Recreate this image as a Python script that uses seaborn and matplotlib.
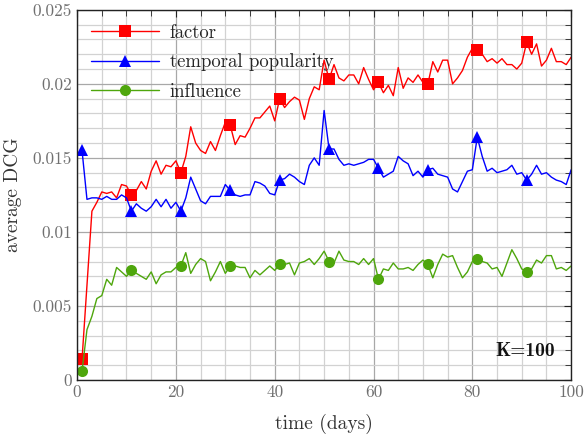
import numpy as np
import pandas as pd
import seaborn as sns
from matplotlib import pyplot as plt
from matplotlib.ticker import MultipleLocator, FuncFormatter

days = np.arange(1, 101)

factor = [
    0.0014, 0.0064, 0.0114, 0.0120, 0.0127, 0.0126, 0.0127, 0.0123, 0.0132, 0.0131,
    0.0125, 0.0128, 0.0134, 0.0129, 0.0141, 0.0148, 0.0139, 0.0145, 0.0144, 0.0148,
    0.0140, 0.0151, 0.0171, 0.0160, 0.0155, 0.0153, 0.0161, 0.0155, 0.0165, 0.0174,
    0.0172, 0.0159, 0.0165, 0.0164, 0.0170, 0.0177, 0.0177, 0.0181, 0.0185, 0.0175,
    0.0190, 0.0184, 0.0188, 0.0191, 0.0189, 0.0176, 0.0190, 0.0198, 0.0196, 0.0216,
    0.0203, 0.0213, 0.0204, 0.0202, 0.0206, 0.0206, 0.0200, 0.0211, 0.0203, 0.0196,
    0.0201, 0.0194, 0.0199, 0.0192, 0.0211, 0.0197, 0.0204, 0.0201, 0.0206, 0.0201,
    0.0200, 0.0215, 0.0208, 0.0216, 0.0216, 0.0200, 0.0204, 0.0209, 0.0218, 0.0224,
    0.0223, 0.0220, 0.0215, 0.0217, 0.0214, 0.0217, 0.0213, 0.0213, 0.0210, 0.0214,
    0.0228, 0.0220, 0.0227, 0.0212, 0.0216, 0.0224, 0.0215, 0.0215, 0.0213, 0.0218,
]

popularity = [
    0.0155, 0.0122, 0.0123, 0.0123, 0.0122, 0.0124, 0.0122, 0.0122, 0.0125, 0.0123,
    0.0114, 0.0119, 0.0116, 0.0114, 0.0117, 0.0122, 0.0117, 0.0122, 0.0116, 0.0120,
    0.0114, 0.0123, 0.0137, 0.0129, 0.0121, 0.0119, 0.0124, 0.0124, 0.0124, 0.0132,
    0.0128, 0.0125, 0.0124, 0.0125, 0.0125, 0.0134, 0.0133, 0.0131, 0.0126, 0.0125,
    0.0135, 0.0136, 0.0139, 0.0137, 0.0134, 0.0132, 0.0145, 0.0150, 0.0145, 0.0182,
    0.0156, 0.0156, 0.0149, 0.0145, 0.0146, 0.0145, 0.0146, 0.0147, 0.0149, 0.0149,
    0.0143, 0.0137, 0.0139, 0.0141, 0.0151, 0.0148, 0.0146, 0.0138, 0.0141, 0.0137,
    0.0142, 0.0143, 0.0139, 0.0138, 0.0137, 0.0129, 0.0127, 0.0134, 0.0141, 0.0142,
    0.0164, 0.0151, 0.0141, 0.0143, 0.0140, 0.0141, 0.0142, 0.0145, 0.0139, 0.0140,
    0.0135, 0.0139, 0.0145, 0.0139, 0.0140, 0.0137, 0.0135, 0.0134, 0.0132, 0.0142,
]

influence = [
    0.0006, 0.0034, 0.0043, 0.0055, 0.0057, 0.0068, 0.0064, 0.0076, 0.0073, 0.0070,
    0.0074, 0.0072, 0.0070, 0.0068, 0.0073, 0.0065, 0.0071, 0.0073, 0.0073, 0.0076,
    0.0077, 0.0086, 0.0072, 0.0078, 0.0082, 0.0080, 0.0067, 0.0073, 0.0080, 0.0072,
    0.0077, 0.0077, 0.0076, 0.0076, 0.0069, 0.0074, 0.0071, 0.0074, 0.0077, 0.0074,
    0.0078, 0.0078, 0.0079, 0.0071, 0.0079, 0.0080, 0.0082, 0.0078, 0.0082, 0.0087,
    0.0080, 0.0079, 0.0087, 0.0081, 0.0080, 0.0080, 0.0078, 0.0082, 0.0078, 0.0082,
    0.0068, 0.0075, 0.0074, 0.0079, 0.0075, 0.0075, 0.0076, 0.0074, 0.0078, 0.0081,
    0.0078, 0.0069, 0.0078, 0.0085, 0.0083, 0.0084, 0.0076, 0.0069, 0.0073, 0.0080,
    0.0082, 0.0080, 0.0079, 0.0075, 0.0076, 0.0070, 0.0079, 0.0088, 0.0082, 0.0075,
    0.0073, 0.0075, 0.0081, 0.0079, 0.0084, 0.0084, 0.0075, 0.0076, 0.0074, 0.0077,
]

series = [
    ("factor", factor, "#ff0000", "s", 9),
    ("temporal popularity", popularity, "#0000ff", "^", 9),
    ("influence", influence, "#4ea60c", "o", 8),
]

sns.set_style("white")
plt.rcParams["font.family"] = ["cmr10", "DejaVu Serif"]
plt.rcParams["mathtext.fontset"] = "cm"
plt.rcParams["axes.formatter.use_mathtext"] = True

fig = plt.figure(figsize=(5.84, 4.46), dpi=100)
ax = fig.add_axes([0.132, 0.148, 0.846, 0.830])

for name, vals, color, marker, ms in series:
    sns.lineplot(
        x=days, y=vals, color=color, marker=marker, markersize=ms,
        markeredgewidth=0, markevery=10, linewidth=1.0, label=name, ax=ax,
    )

ax.set_xlim(0, 100)
ax.set_ylim(0, 0.025)
ax.xaxis.set_major_locator(MultipleLocator(20))
ax.xaxis.set_minor_locator(MultipleLocator(5))
ax.yaxis.set_major_locator(MultipleLocator(0.005))
ax.yaxis.set_minor_locator(MultipleLocator(0.001))
ax.yaxis.set_major_formatter(FuncFormatter(lambda v, p: "%g" % round(v, 4)))
ax.xaxis.set_major_formatter(FuncFormatter(lambda v, p: "%g" % v))

ax.grid(which="major", color="#a8a8a8", linewidth=0.9)
ax.grid(which="minor", color="#d2d2d2", linewidth=0.9)
ax.set_axisbelow(True)
ax.tick_params(which="both", direction="in", top=True, right=True,
               labelsize=12.5, labelcolor="#707070", color="#222222")
ax.tick_params(which="major", length=5)
ax.tick_params(which="minor", length=4)
for s in ax.spines.values():
    s.set_color("#222222")
    s.set_linewidth(1.0)

ax.set_xlabel("time (days)", fontsize=14, color="#333333", labelpad=10)
ax.set_ylabel("average DCG", fontsize=14, color="#333333", labelpad=8)

ax.legend(loc="upper left", frameon=False, fontsize=13.5, handlelength=3.6,
          labelspacing=0.62, borderaxespad=0.35, handletextpad=0.6)

ax.text(0.968, 0.055, "K=100", transform=ax.transAxes, ha="right", va="bottom",
        fontsize=14, family="cmb10", color="#111111")

fig.savefig("out.png", dpi=100)
